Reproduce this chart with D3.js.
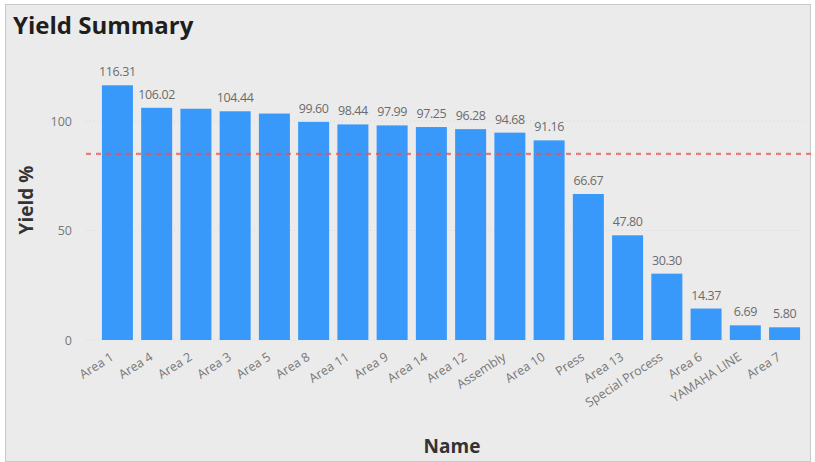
<!DOCTYPE html>
<html>
<head>
<meta charset="utf-8">
<script src="https://cdn.jsdelivr.net/npm/d3@7"></script>
<style>
  html, body { margin: 0; padding: 0; background: #ffffff; }
  svg { display: block; font-family: "Open Sans", "Noto Sans", sans-serif; }
</style>
</head>
<body>
<svg id="chart" width="815" height="462"></svg>
<script>
// Yield per production area, sorted descending
const names = ["Area 1", "Area 4", "Area 2", "Area 3", "Area 5", "Area 8", "Area 11", "Area 9",
  "Area 14", "Area 12", "Assembly", "Area 10", "Press", "Area 13", "Special Process",
  "Area 6", "YAMAHA LINE", "Area 7"];
const yields = [116.31, 106.02, 105.6, 104.44, 103.4, 99.60, 98.44, 97.99,
  97.25, 96.28, 94.68, 91.16, 66.67, 47.80, 30.30, 14.37, 6.69, 5.80];
// labels suppressed where they would collide with a neighbour
const showLabel = [true, true, false, true, false, true, true, true,
  true, true, true, true, true, true, true, true, true, true];
const yTicks = [0, 50, 100];
const target = 85;

const svg = d3.select("#chart");
const W = 815, H = 462;

// card background and frame
svg.append("rect").attr("x", 5.5).attr("y", 4.5).attr("width", W - 10).attr("height", H - 5)
  .attr("fill", "#ebebeb").attr("stroke", "#c9c9c9").attr("stroke-width", 1);

svg.append("text").attr("x", 13).attr("y", 34)
  .attr("font-size", 24).attr("font-weight", 700).attr("fill", "#1e1e1e")
  .text("Yield Summary");

const x = d3.scaleBand().domain(names).range([98, 804]).paddingInner(0.21).paddingOuter(0.1);
const y = d3.scaleLinear().domain([0, 100]).range([340, 121]);

// faint dotted gridlines
const grid = svg.append("g");
grid.selectAll("line").data(yTicks).join("line")
  .attr("x1", 86).attr("x2", 806)
  .attr("y1", d => y(d)).attr("y2", d => y(d))
  .attr("stroke", "#d8d8d8").attr("stroke-width", 1).attr("stroke-dasharray", "1,3");

// y axis
const yAxis = svg.append("g").attr("transform", "translate(86,0)")
  .call(d3.axisLeft(y).tickValues(yTicks).tickSize(0).tickPadding(14));
yAxis.select(".domain").remove();
yAxis.selectAll("text").attr("font-size", 12.5).attr("fill", "#777")
  .attr("font-family", "\"Open Sans\", sans-serif");

// bars
svg.append("g").selectAll("rect").data(names).join("rect")
  .attr("x", d => x(d))
  .attr("width", x.bandwidth())
  .attr("y", (d, i) => y(yields[i]))
  .attr("height", (d, i) => y(0) - y(yields[i]))
  .attr("fill", "#3999fb");

// value labels
svg.append("g").selectAll("text").data(names.map((n, i) => ({ n, v: yields[i], s: showLabel[i] })).filter(d => d.s))
  .join("text")
  .attr("x", d => x(d.n) + x.bandwidth() / 2)
  .attr("y", d => y(d.v) - 9)
  .attr("text-anchor", "middle")
  .attr("font-size", 12.5).attr("fill", "#6b6b6b")
  .attr("letter-spacing", "-0.4")
  .text(d => d.v.toFixed(2));

// target line
svg.append("line")
  .attr("x1", 86).attr("x2", 812)
  .attr("y1", y(target)).attr("y2", y(target))
  .attr("stroke", "#e6504e").attr("stroke-opacity", 0.7)
  .attr("stroke-width", 2.2).attr("stroke-dasharray", "5,5");

// x axis
const xAxis = svg.append("g").attr("transform", "translate(0,340)")
  .call(d3.axisBottom(x).tickSize(0).tickPadding(0));
xAxis.select(".domain").remove();
xAxis.selectAll("text")
  .attr("font-size", 12.5).attr("fill", "#777")
  .attr("font-family", "\"Open Sans\", sans-serif")
  .attr("text-anchor", "end")
  .attr("dy", 0)
  .attr("transform", "translate(-3,19) rotate(-33)");

// axis titles
svg.append("text").attr("x", 452).attr("y", 453)
  .attr("text-anchor", "middle").attr("font-size", 19).attr("font-weight", 700).attr("fill", "#333")
  .text("Name");
svg.append("text").attr("transform", "translate(33,200) rotate(-90)")
  .attr("text-anchor", "middle").attr("font-size", 19).attr("font-weight", 700).attr("fill", "#333")
  .text("Yield %");
</script>
</body>
</html>
